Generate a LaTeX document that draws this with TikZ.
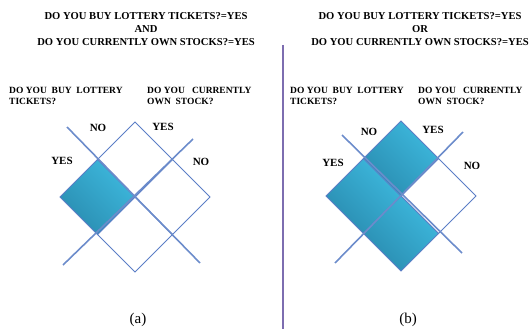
\documentclass[tikz,border=0pt]{standalone}
\usepackage{fontspec}
\setmainfont{Liberation Serif}
\definecolor{cellblue}{HTML}{5B7EC6}
\definecolor{lineblue}{HTML}{6C8CCB}
\definecolor{cyanlight}{HTML}{3DB8DD}
\definecolor{cyandark}{HTML}{2A8DB1}
\definecolor{divider}{HTML}{7D6DB0}

\begin{document}
\begin{tikzpicture}[x=1pt, y=-1pt,
    cell/.style={draw=cellblue, line width=0.9pt},
    full/.style={cell, top color=cyanlight, bottom color=cyandark, shading angle=-45},
    cut/.style={draw=lineblue, line width=1.6pt},
    lab/.style={font=\fontsize{11}{11}\selectfont\bfseries, inner sep=0pt},
    head/.style={font=\fontsize{9.5}{11.5}\selectfont\bfseries, align=left, anchor=north west, inner sep=0pt},
    title/.style={font=\fontsize{10.6}{12.8}\selectfont\bfseries, align=center, inner sep=0pt}]
    \useasboundingbox (0,0) rectangle (530,329);

    % --- titles ---
    \node[title] (titleA) at (146,29) {DO YOU BUY LOTTERY TICKETS?=YES\\AND\\DO YOU CURRENTLY OWN STOCKS?=YES};
    \node[title] (titleB) at (420,29) {DO YOU BUY LOTTERY TICKETS?=YES\\OR\\DO YOU CURRENTLY OWN STOCKS?=YES};

    % --- divider between the two panels ---
    \draw[divider, line width=1.4pt] (283,45) -- (283,329);

    % --- question headers ---
    \node[head] (lottoA) at (9,87) {DO YOU\ \ BUY\ \ LOTTERY\\TICKETS?};
    \node[head] (stockA) at (147,87) {DO YOU\ \ \ CURRENTLY\\OWN\ \ STOCK?};
    \node[head] (lottoB) at (290,87) {DO YOU\ \ BUY\ \ LOTTERY\\TICKETS?};
    \node[head] (stockB) at (418,87) {DO YOU\ \ \ CURRENTLY\\OWN\ \ STOCK?};

    % --- panel (a): centre (135,197), only the west cell shaded ---
    \foreach \dx/\dy/\st in {0/-37.5/cell, 37.5/0/cell, 0/37.5/cell, -37.5/0/full}
      \draw[\st] (135+\dx-37.5,197+\dy) -- ++(37.5,-37.5) -- ++(37.5,37.5) -- ++(-37.5,37.5) -- cycle;
    \draw[cut] (67,127) -- (200,263);
    \draw[cut] (63,265) -- (193,139);
    \node[lab] (noA)  at (98,128)  {NO};
    \node[lab] (yesA) at (163,127) {YES};
    \node[lab] (yesAl) at (62,161) {YES};
    \node[lab] (noAr) at (201,162) {NO};

    % --- panel (b): centre (401,196), every cell but the east one shaded ---
    \foreach \dx/\dy/\st in {37.5/0/cell, -37.5/0/full, 0/37.5/full, 0/-37.5/full}
      \draw[\st] (401+\dx-37.5,196+\dy) -- ++(37.5,-37.5) -- ++(37.5,37.5) -- ++(-37.5,37.5) -- cycle;
    \draw[cut] (342,135) -- (462,253);
    \draw[cut] (335,263) -- (463,132);
    \node[lab] (noB)  at (369,132) {NO};
    \node[lab] (yesB) at (433,130) {YES};
    \node[lab] (yesBl) at (333,163) {YES};
    \node[lab] (noBr) at (472,166) {NO};

    % --- captions ---
    \node[font=\fontsize{15}{15}\selectfont] (capA) at (138,320) {(a)};
    \node[font=\fontsize{15}{15}\selectfont] (capB) at (408,320) {(b)};
\end{tikzpicture}
\end{document}
